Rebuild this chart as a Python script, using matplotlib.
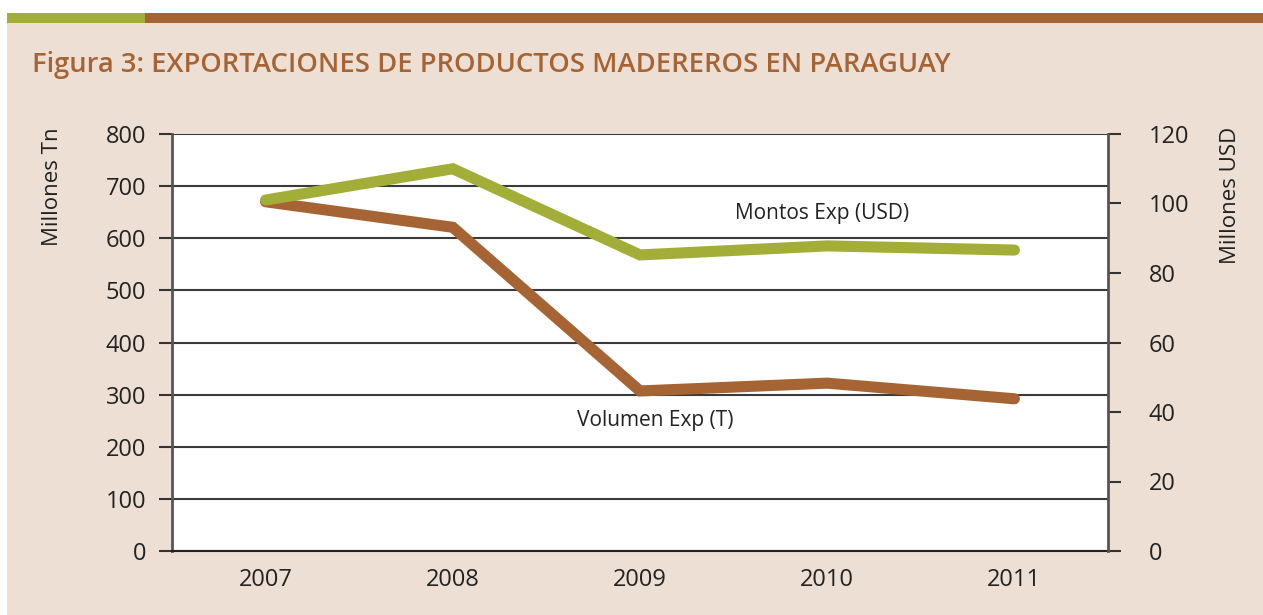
import numpy as np
import matplotlib
matplotlib.use("Agg")
import matplotlib.pyplot as plt
from matplotlib.patches import Rectangle

plt.rcParams['font.family'] = ['Open Sans', 'DejaVu Sans']

years = ["2007", "2008", "2009", "2010", "2011"]
volumen = [670, 621, 307, 322, 292]      # Millones Tn (left axis)
montos = [101, 110, 85.2, 87.8, 86.6]    # Millones USD (right axis)

bg = "#EDDFD3"
green = "#A3AE38"
brown = "#A66434"
W, H = 1263, 615

fig = plt.figure(figsize=(W / 100, H / 100), dpi=100, facecolor=bg)

# white margin + colored bar at the top
fig.add_artist(Rectangle((0, 1 - 13 / H), 1, 13 / H, transform=fig.transFigure,
                         facecolor="white", edgecolor="none"))
fig.add_artist(Rectangle((0, 0), 7 / W, 1, transform=fig.transFigure,
                         facecolor="white", edgecolor="none"))
fig.add_artist(Rectangle((7 / W, 1 - 23 / H), 138 / W, 10 / H, transform=fig.transFigure,
                         facecolor=green, edgecolor="none"))
fig.add_artist(Rectangle((145 / W, 1 - 23 / H), 1, 10 / H, transform=fig.transFigure,
                         facecolor=brown, edgecolor="none"))

fig.text(32 / W, 1 - 65 / H, "Figura 3: EXPORTACIONES DE PRODUCTOS MADEREROS EN PARAGUAY",
         color=brown, fontsize=19.7, fontweight="semibold", va="center", ha="left")

ax = fig.add_axes([172 / W, (H - 551) / H, 936 / W, 417 / H])
ax.set_facecolor("white")
x = np.arange(len(years))

ax.set_xlim(-0.5, 4.5)
ax.set_ylim(0, 800)
ax.set_yticks(np.arange(0, 801, 100))
ax.set_xticks(x)
ax.set_xticklabels(years)
ax.grid(axis="y", color="#3a3a3a", linewidth=1.5)
ax.set_axisbelow(True)
for s in ["top", "right"]:
    ax.spines[s].set_visible(False)
ax.spines["left"].set_color("#555555")
ax.spines["left"].set_linewidth(2)
ax.spines["bottom"].set_color("#222222")
ax.spines["bottom"].set_linewidth(1.5)
ax.tick_params(axis="y", direction="out", length=9.5, width=1.5, color="#333333",
               labelsize=17, pad=9, labelcolor="#222222")
ax.tick_params(axis="x", length=0, labelsize=17, pad=12, labelcolor="#222222")

ax2 = ax.twinx()
ax2.set_ylim(0, 120)
ax2.set_yticks(np.arange(0, 121, 20))
for s in ["top", "left", "bottom"]:
    ax2.spines[s].set_visible(False)
ax2.spines["right"].set_color("#555555")
ax2.spines["right"].set_linewidth(2)
ax2.tick_params(axis="y", direction="out", length=9.5, width=1.5, color="#333333",
                labelsize=17, pad=20, labelcolor="#222222")

fig.text(53 / W, 1 - 127 / H, "Millones Tn", rotation=90, fontsize=16, color="#222222",
         ha="center", va="top")
fig.text(1230 / W, 1 - 127 / H, "Millones USD", rotation=90, fontsize=16, color="#222222",
         ha="center", va="top")

ax.plot(x, volumen, color=brown, linewidth=8, solid_capstyle="round", solid_joinstyle="miter", zorder=3)
ax2.plot(x, montos, color=green, linewidth=8, solid_capstyle="round", solid_joinstyle="miter", zorder=4)

ax2.text(2.97, 97, "Montos Exp (USD)", fontsize=15, color="#222222", ha="center", va="center")
ax.text(2.08, 251, "Volumen Exp (T)", fontsize=15, color="#222222", ha="center", va="center")

fig.savefig("out.png", dpi=100, facecolor=bg)
